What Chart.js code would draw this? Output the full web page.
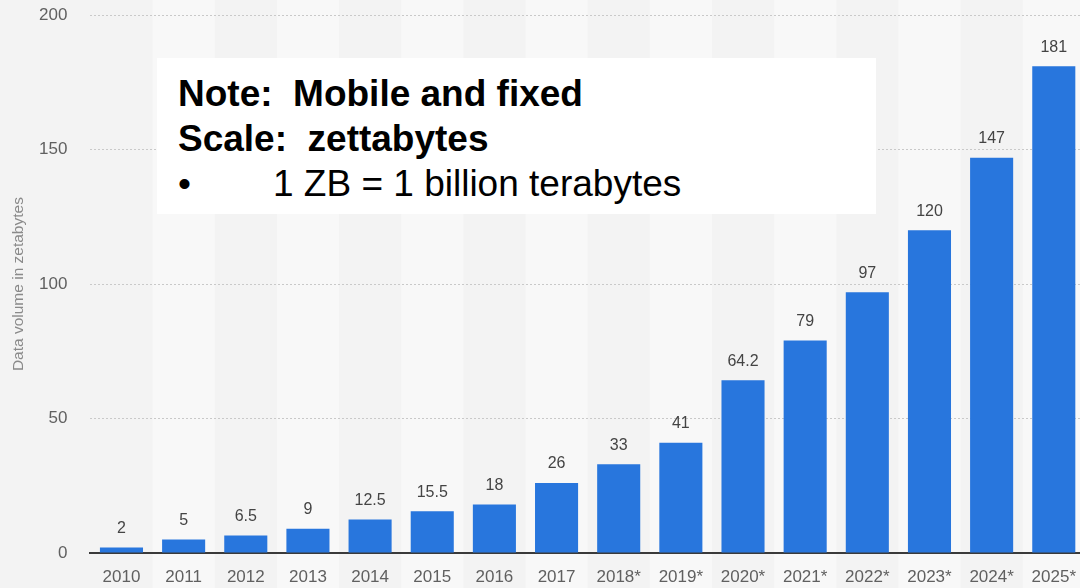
<!DOCTYPE html>
<html>
<head>
<meta charset="utf-8">
<title>Data volume in zettabytes</title>
<script src="https://cdn.jsdelivr.net/npm/chart.js@4/dist/chart.umd.min.js"></script>
<style>
  html, body { margin: 0; padding: 0; width: 1080px; height: 588px; overflow: hidden; background: #f3f3f3; }
  #wrap { position: relative; width: 1080px; height: 588px; overflow: hidden; }
  #chart { position: absolute; left: 0; top: -18px; }
  #note {
    position: absolute; left: 157px; top: 58px; width: 719px; height: 156px;
    background: #ffffff; font-family: "Liberation Sans", Arial, sans-serif; color: #000;
  }
  #note .line { position: absolute; left: 21px; font-size: 37px; line-height: 45px; height: 45px; white-space: nowrap; }
  #note .b { font-weight: bold; }
  #note .indent { position: absolute; left: 95px; top: 0; }
</style>
</head>
<body>
<div id="wrap">
  <canvas id="chart" width="1090" height="606"></canvas>
  <div id="note">
    <div class="line b" style="top:12.7px">Note:&nbsp; Mobile and fixed</div>
    <div class="line b" style="top:57.7px">Scale:&nbsp; zettabytes</div>
    <div class="line" style="top:102.7px">•<span class="indent">1 ZB = 1 billion terabytes</span></div>
  </div>
</div>
<script>
// Global data volume, in zettabytes (* = forecast)
const years = ['2010', '2011', '2012', '2013', '2014', '2015', '2016', '2017',
               '2018*', '2019*', '2020*', '2021*', '2022*', '2023*', '2024*', '2025*'];
const volumes = [2, 5, 6.5, 9, 12.5, 15.5, 18, 26, 33, 41, 64.2, 79, 97, 120, 147, 181];
const yTicks = [0, 50, 100, 150, 200];

const BAR_BLUE = '#2876dd';
const PAGE_BG = '#f3f3f3';
const STRIPE_BG = '#f8f8f8';

Chart.defaults.font.family = '"Liberation Sans", Arial, Helvetica, sans-serif';

// Alternating vertical bands behind every other category
const stripes = {
  id: 'stripes',
  beforeDraw(chart) {
    const { ctx, scales: { x } } = chart;
    ctx.save();
    ctx.fillStyle = PAGE_BG;
    ctx.fillRect(0, 0, chart.width, chart.height);
    const band = x.width / years.length;
    ctx.fillStyle = STRIPE_BG;
    years.forEach((_, i) => {
      if (i % 2 === 1) {
        const cx = x.getPixelForValue(i);
        ctx.fillRect(cx - band / 2, 0, band, chart.height);
      }
    });
    ctx.restore();
  }
};

// Value printed above each bar
const valueLabels = {
  id: 'valueLabels',
  afterDatasetsDraw(chart) {
    const { ctx } = chart;
    const meta = chart.getDatasetMeta(0);
    ctx.save();
    ctx.font = '16px "Liberation Sans", Arial, sans-serif';
    ctx.fillStyle = '#444444';
    ctx.textAlign = 'center';
    ctx.textBaseline = 'middle';
    meta.data.forEach((bar, i) => {
      ctx.fillText(String(volumes[i]), bar.x, bar.y - 19);
    });
    ctx.restore();
  }
};

new Chart(document.getElementById('chart'), {
  type: 'bar',
  data: {
    labels: years,
    datasets: [{
      data: volumes,
      backgroundColor: BAR_BLUE,
      borderWidth: 0,
      categoryPercentage: 1,
      barPercentage: 0.693
    }]
  },
  options: {
    responsive: false,
    animation: false,
    devicePixelRatio: 1,
    layout: { padding: { top: 15, right: 0, bottom: 0, left: 0 } },
    plugins: {
      legend: { display: false },
      tooltip: { enabled: false },
      title: { display: false }
    },
    scales: {
      x: {
        offset: true,
        grid: { display: false, drawTicks: false },
        border: { display: true, color: '#3a3a3a', width: 2 },
        ticks: {
          color: '#606060',
          font: { size: 17 },
          padding: 14,
          maxRotation: 0,
          autoSkip: false
        },
        afterFit(scale) { scale.height = 35; }
      },
      y: {
        min: 0,
        max: 200,
        afterBuildTicks(scale) { scale.ticks = yTicks.map(v => ({ value: v })); },
        grid: {
          drawTicks: false,
          color: ctx => (ctx.tick && ctx.tick.value === 0) ? 'rgba(0,0,0,0)' : '#c9c9c9',
          lineWidth: 1
        },
        border: { display: false, dash: [2, 2] },
        ticks: {
          color: '#606060',
          font: { size: 17 },
          padding: 23
        },
        title: {
          display: true,
          text: 'Data volume in zetabytes',
          color: '#8a8a8a',
          font: { size: 15.5 },
          padding: { top: 9, bottom: 0 }
        },
        afterFit(scale) { scale.width = 90.4; }
      }
    }
  },
  plugins: [stripes, valueLabels]
});
</script>
</body>
</html>
